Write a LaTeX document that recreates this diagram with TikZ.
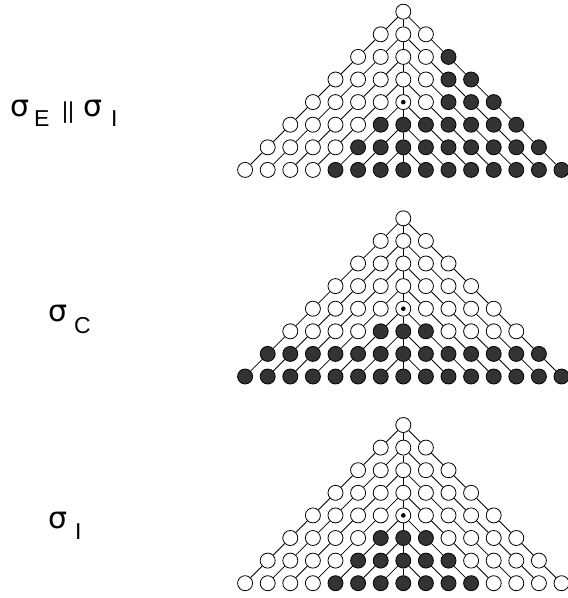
\documentclass[tikz,border=0pt]{standalone}
\usepackage{fontspec}
\setmainfont{Liberation Sans}
\newfontfamily\grk{DejaVu Sans}
\tikzset{
  cell/.style={circle,draw=black,line width=0.8pt,minimum size=15pt,inner sep=0pt,fill=white},
  full/.style={cell,fill=black!80},
  link/.style={draw=black,line width=0.8pt},
  sig/.style={anchor=base west,inner sep=0pt,font=\grk\fontsize{30}{30}\selectfont},
  sub/.style={anchor=base west,inner sep=0pt,font=\fontsize{23}{23}\selectfont}
}
\begin{document}
\begin{tikzpicture}[x=1pt,y=-1pt]
\useasboundingbox (0,0) rectangle (568,598);
\foreach \t/\yc in {1/11.7,2/218.3,3/425}{
  \foreach \k in {0,...,7}{
    \foreach \i in {-\k,...,\k}{
      \pgfmathtruncatemacro\f{((\k>=5) && (abs(\i)<=\k-4)) || ((\t==1) && (\k>=2) && (\i>=2)) || ((\t==2) && (\k>=6))}
      \pgfmathtruncatemacro\j{\i+7}
      \ifnum\f=1 \def\sty{full}\else\def\sty{cell}\fi
      \node[\sty] (n\t-\k-\j) at ({403.3+22.6*(\i)},{\yc+22.6*\k}) {};
    }
  }
  \foreach \k in {0,...,6}{
    \foreach \i in {-\k,...,\k}{
      \pgfmathtruncatemacro\j{\i+7}
      \pgfmathtruncatemacro\kk{\k+1}
      \pgfmathtruncatemacro\jl{\j-1}
      \pgfmathtruncatemacro\jr{\j+1}
      \ifnum\i<0 \draw[link] (n\t-\k-\j) -- (n\t-\kk-\jl);\fi
      \ifnum\i>0 \draw[link] (n\t-\k-\j) -- (n\t-\kk-\jr);\fi
      \ifnum\i=0
        \draw[link] (n\t-\k-\j) -- (n\t-\kk-\jl);
        \draw[link] (n\t-\k-\j) -- (n\t-\kk-\j);
        \draw[link] (n\t-\k-\j) -- (n\t-\kk-\jr);
      \fi
    }
  }
  \fill (n\t-4-7.center) circle (2.3pt);
}
% labels
\node[sig] (aS1) at (10.5,116) {σ};
\node[sub] (aE) at (34,126) {E};
\node[sub] (aBar) at (62,118) {||};
\node[sig] (aS2) at (83.5,116) {σ};
\node[sub] (aI) at (111,126) {I};
\node[sig] (bS) at (48.5,321) {σ};
\node[sub] (bC) at (74,333) {C};
\node[sig] (cS) at (48.5,528) {σ};
\node[sub] (cI) at (75,539) {I};
\end{tikzpicture}
\end{document}
